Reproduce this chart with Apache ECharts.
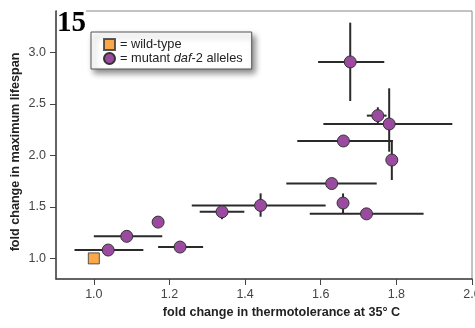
<!DOCTYPE html>
<html>
<head>
<meta charset="utf-8">
<script src="https://cdn.jsdelivr.net/npm/echarts@6/dist/echarts.min.js"></script>
<style>
  html, body { margin: 0; padding: 0; background: #fff; }
  #main { width: 475px; height: 328px; }
</style>
</head>
<body>
<div id="main"></div>
<script>
// tick labels
var xTicks = [1.0, 1.2, 1.4, 1.6, 1.8, 2.0];
var yTicks = [1.0, 1.5, 2.0, 2.5, 3.0];

// wild-type reference point
var wildType = [[1.0, 1.0]];

// mutant daf-2 alleles: thermotolerance, lifespan
var mutantX = [1.038, 1.087, 1.170, 1.228, 1.339, 1.441, 1.629, 1.659, 1.721, 1.660, 1.788, 1.781, 1.751, 1.678];
var mutantY = [1.081, 1.214, 1.352, 1.110, 1.452, 1.514, 1.726, 1.537, 1.432, 2.139, 1.954, 2.304, 2.385, 2.906];
// error ranges (low / high), same as value where no bar is drawn
var xLow  = [0.949, 1.000, 1.170, 1.170, 1.280, 1.259, 1.509, 1.659, 1.571, 1.538, 1.788, 1.607, 1.722, 1.593];
var xHigh = [1.131, 1.181, 1.170, 1.289, 1.398, 1.613, 1.748, 1.659, 1.872, 1.791, 1.788, 1.948, 1.774, 1.768];
var yLow  = [1.081, 1.214, 1.352, 1.110, 1.380, 1.404, 1.700, 1.437, 1.432, 2.139, 1.760, 2.035, 2.311, 2.527];
var yHigh = [1.081, 1.214, 1.352, 1.110, 1.510, 1.631, 1.760, 1.630, 1.432, 2.139, 2.130, 2.650, 2.466, 3.287];

(function(){
    var myChart = echarts.init(document.getElementById('main'));

    var mutants = [], bars = [];
    for (var i = 0; i < mutantX.length; i++) {
        mutants.push([mutantX[i], mutantY[i]]);
        bars.push([mutantX[i], mutantY[i], xLow[i], xHigh[i], yLow[i], yHigh[i]]);
    }

    // 误差线
    function renderBars(params, api){
        var c = api.coord([api.value(0), api.value(1)]);
        var l = api.coord([api.value(2), api.value(1)]);
        var r = api.coord([api.value(3), api.value(1)]);
        var b = api.coord([api.value(0), api.value(4)]);
        var t = api.coord([api.value(0), api.value(5)]);
        var style = { stroke: '#2a2a2a', lineWidth: 2 };
        var children = [];
        if (r[0] - l[0] > 1) {
            children.push({ type: 'line', shape: { x1: l[0], y1: c[1], x2: r[0], y2: c[1] }, style: style });
        }
        if (b[1] - t[1] > 1) {
            children.push({ type: 'line', shape: { x1: c[0], y1: b[1], x2: c[0], y2: t[1] }, style: style });
        }
        return { type: 'group', children: children };
    }

    var font = 'Liberation Sans, Arial, sans-serif';
    var labelFont = { color: '#444', fontSize: 12.5, fontFamily: font };
    var nameFont = { color: '#222', fontSize: 12.6, fontWeight: 'bold', fontFamily: font };

    var option = {
        animation: false,
        grid: {
            left: 56, right: 3, top: 11, bottom: 49,
            outerBoundsMode: 'none',
            show: true, borderColor: '#888', borderWidth: 1
        },
        legend: {
            orient: 'vertical',
            left: 91, top: 32,
            padding: [6, 9, 4, 12],
            itemWidth: 11, itemHeight: 11, itemGap: 1,
            backgroundColor: '#fff',
            borderColor: '#555', borderWidth: 1,
            shadowColor: 'rgba(0,0,0,0.45)', shadowBlur: 6, shadowOffsetX: 3, shadowOffsetY: 4,
            data: [
                { name: 'wild-type', icon: 'rect' },
                { name: 'mutant', icon: 'circle' }
            ],
            formatter: function(name){
                return name === 'wild-type' ? '= wild-type' : '= mutant {i|daf}-2 alleles';
            },
            textStyle: {
                color: '#222', fontSize: 12.8, lineHeight: 13, fontFamily: font,
                rich: { i: { fontStyle: 'italic', fontSize: 12.8, lineHeight: 13, color: '#222', fontFamily: font } }
            }
        },
        xAxis: {
            type: 'value', min: 0.9, max: 2.0,
            name: 'fold change in thermotolerance at 35° C',
            nameLocation: 'middle', nameGap: 26,
            nameTextStyle: Object.assign({ padding: [0, 0, 0, 35] }, nameFont),
            splitLine: { show: false },
            axisLine: { lineStyle: { color: '#444', width: 1.5 } },
            axisTick: { length: 6, lineStyle: { color: '#444' }, customValues: xTicks },
            axisLabel: Object.assign({ margin: 9, customValues: xTicks, formatter: function(v){ return v.toFixed(1); } }, labelFont)
        },
        yAxis: {
            type: 'value', min: 0.8, max: 3.4,
            name: 'fold change in maximum lifespan',
            nameLocation: 'middle', nameGap: 34, nameRotate: 90,
            nameMoveOverlap: false,
            nameTextStyle: Object.assign({ padding: [0, 14, 0, 0] }, nameFont),
            splitLine: { show: false },
            axisLine: { show: true, lineStyle: { color: '#444', width: 1.5 } },
            axisTick: { show: true, length: 6, lineStyle: { color: '#444' }, customValues: yTicks },
            axisLabel: Object.assign({ margin: 10, customValues: yTicks, formatter: function(v){ return v.toFixed(1); } }, labelFont)
        },
        graphic: [{
            type: 'text', left: 57, top: 9, z: 100,
            style: { text: '15', font: 'bold 29px "Liberation Serif", serif', fill: '#000', backgroundColor: '#fff' }
        }],
        series: [{
            name: 'bars',
            type: 'custom',
            renderItem: renderBars,
            data: bars,
            z: 1,
            silent: true
        }, {
            name: 'wild-type',
            type: 'scatter',
            symbol: 'rect',
            symbolSize: 11,
            data: wildType,
            itemStyle: { color: '#f7941d', borderColor: '#333', borderWidth: 1 },
            z: 3
        }, {
            name: 'mutant',
            type: 'scatter',
            symbol: 'circle',
            symbolSize: 12,
            data: mutants,
            itemStyle: { color: '#9a4a9f', borderColor: '#333', borderWidth: 1, opacity: 1 },
            z: 3
        }]
    };
    myChart.setOption(option);
})();
</script>
</body>
</html>
